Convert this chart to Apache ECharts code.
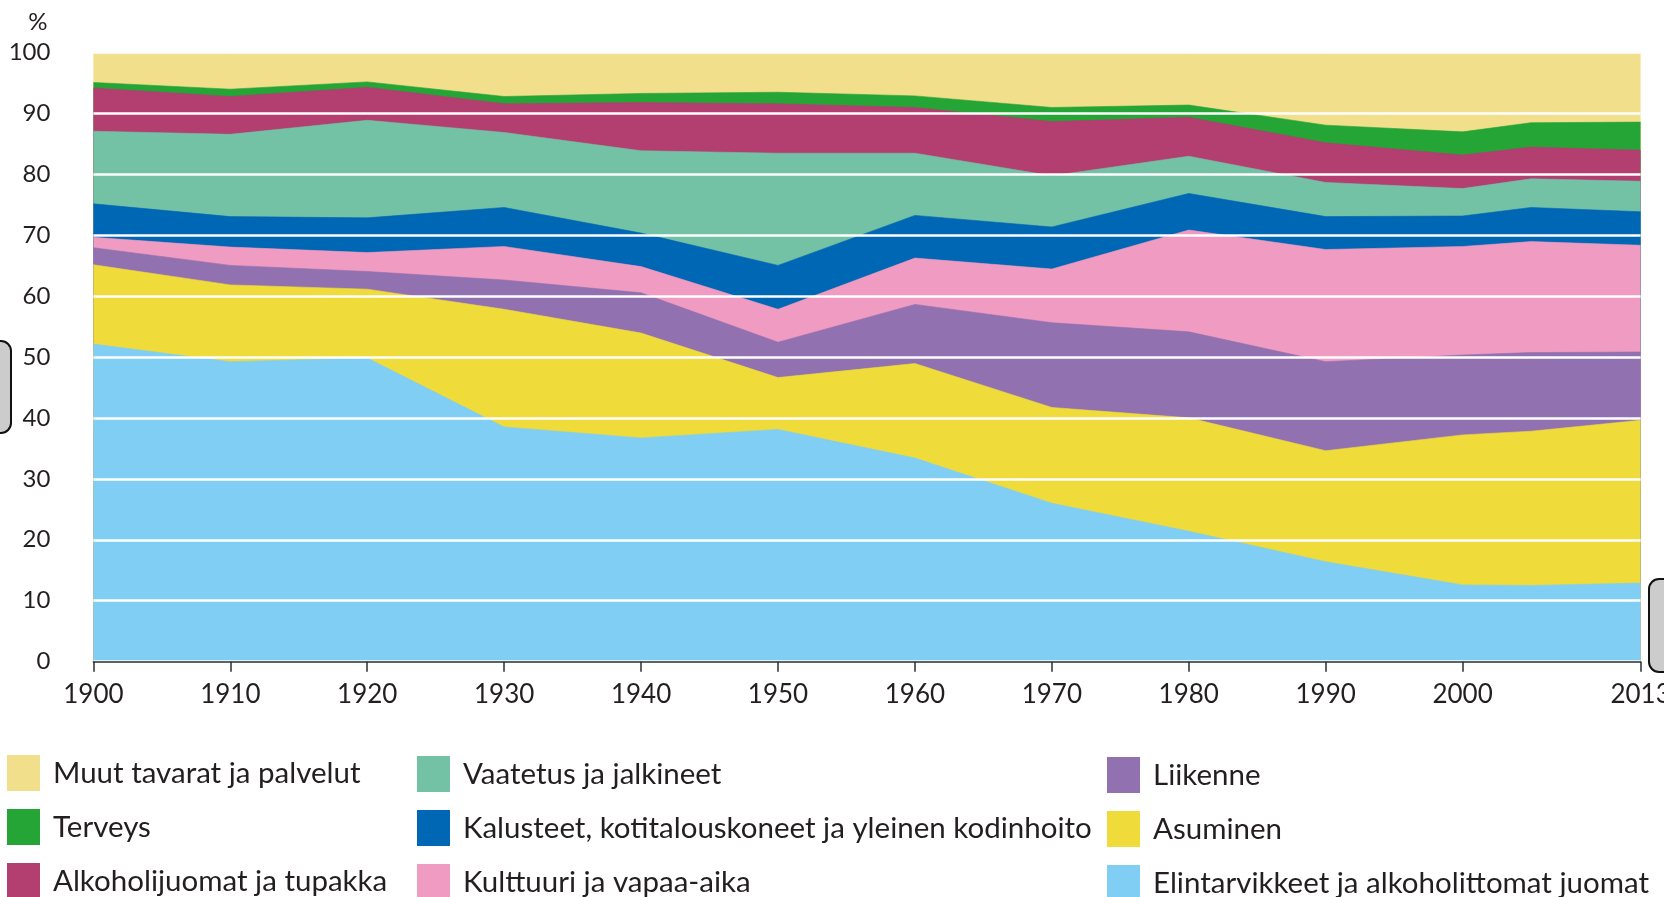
<!DOCTYPE html>
<html>
<head>
<meta charset="utf-8">
<script src="https://cdn.jsdelivr.net/npm/echarts@6/dist/echarts.min.js"></script>
<style>
html,body{margin:0;padding:0;background:#fff;}
#chart{width:1664px;height:897px;}
</style>
</head>
<body>
<div id="chart"></div>
<script>
const years = [1900, 1910, 1920, 1930, 1940, 1950, 1960, 1970, 1980, 1990, 2000, 2005, 2013];
const xTickLabels = [1900, 1910, 1920, 1930, 1940, 1950, 1960, 1970, 1980, 1990, 2000, 2013];

const elintarvikkeet = [52.1, 49.2, 49.8, 38.5, 36.7, 38.1, 33.4, 26.0, 21.4, 16.4, 12.6, 12.5, 12.9];
const asuminen       = [13.0, 12.6, 11.3, 19.3, 17.2, 8.5, 15.5, 15.7, 18.6, 18.2, 24.6, 25.3, 26.7];
const liikenne       = [2.8, 3.2, 2.9, 4.8, 6.6, 5.8, 9.7, 13.9, 14.1, 14.6, 13.1, 12.9, 11.2];
const kulttuuri      = [1.7, 3.0, 3.1, 5.5, 4.3, 5.4, 7.6, 8.8, 16.7, 18.4, 17.8, 18.2, 17.5];
const kalusteet      = [5.5, 5.0, 5.7, 6.4, 5.5, 7.2, 7.0, 6.9, 6.0, 5.4, 5.0, 5.6, 5.5];
const vaatetus       = [11.9, 13.5, 16.0, 12.3, 13.5, 18.4, 10.2, 8.4, 6.1, 5.6, 4.5, 4.7, 5.0];
const alkoholi       = [7.1, 6.2, 5.4, 4.7, 7.9, 8.1, 7.5, 8.9, 6.4, 6.5, 5.5, 5.2, 5.1];
const terveys        = [0.9, 1.2, 0.9, 1.2, 1.5, 1.9, 1.9, 2.3, 2.0, 2.9, 3.8, 4.0, 4.6];
const muut           = [5.0, 6.1, 4.9, 7.3, 6.8, 6.6, 7.2, 9.1, 8.7, 12.0, 13.1, 11.6, 11.5];

// bottom to top
const seriesDefs = [
  {name: 'Elintarvikkeet ja alkoholittomat juomat', data: elintarvikkeet, color: '#80cef3'},
  {name: 'Asuminen', data: asuminen, color: '#efdc3a'},
  {name: 'Liikenne', data: liikenne, color: '#9271b0'},
  {name: 'Kulttuuri ja vapaa-aika', data: kulttuuri, color: '#f09bc1'},
  {name: 'Kalusteet, kotitalouskoneet ja yleinen kodinhoito', data: kalusteet, color: '#0067b4'},
  {name: 'Vaatetus ja jalkineet', data: vaatetus, color: '#74c2a5'},
  {name: 'Alkoholijuomat ja tupakka', data: alkoholi, color: '#b33e70'},
  {name: 'Terveys', data: terveys, color: '#25a535'},
  {name: 'Muut tavarat ja palvelut', data: muut, color: '#f1df8c'}
];

const FONT = 'Lato';
const TXT = '#231f20';

// cumulative stacking (each area is filled from its cumulative top down to 0;
// lower layers are drawn later, on top)
const cum = years.map(() => 0);
const stacked = seriesDefs.map(s => {
  const tops = s.data.map((v, i) => (cum[i] += v));
  return {def: s, tops: tops.slice()};
});

const series = stacked.map((st, idx) => ({
  name: st.def.name,
  type: 'line',
  color: st.def.color,
  symbol: 'none',
  showSymbol: false,
  z: 2 + (seriesDefs.length - idx),
  lineStyle: {width: 0.6, color: st.def.color},
  areaStyle: {color: st.def.color, opacity: 1, origin: 'start'},
  itemStyle: {color: st.def.color},
  emphasis: {disabled: true},
  data: years.map((y, i) => [y, st.tops[i]])
}));

function legendCol(names, left, top) {
  return {
    orient: 'vertical',
    left: left,
    top: top,
    height: 160,
    icon: 'rect',
    itemWidth: 33,
    itemHeight: 36,
    itemGap: 18,
    selectedMode: false,
    padding: 0,
    data: names,
    textStyle: {fontFamily: FONT, fontSize: 29.5, color: TXT, padding: [0, 0, 0, 8]}
  };
}

const chart = echarts.init(document.getElementById('chart'));
chart.setOption({
  animation: false,
  backgroundColor: '#fff',
  grid: {left: 93.4, right: 23.4, top: 52, bottom: 235.3, containLabel: false, outerBoundsMode: 'none'},
  legend: [
    legendCol(['Muut tavarat ja palvelut', 'Terveys', 'Alkoholijuomat ja tupakka'], 7, 755),
    legendCol(['Vaatetus ja jalkineet', 'Kalusteet, kotitalouskoneet ja yleinen kodinhoito', 'Kulttuuri ja vapaa-aika'], 417, 756),
    legendCol(['Liikenne', 'Asuminen', 'Elintarvikkeet ja alkoholittomat juomat'], 1107, 757)
  ],
  xAxis: {
    type: 'value',
    min: 1900,
    max: 2013,
    z: 21,
    axisLine: {show: true, lineStyle: {color: '#2a2f33', width: 1.5}},
    axisTick: {show: true, length: 10, customValues: xTickLabels, lineStyle: {color: '#2a2f33', width: 1.5}},
    axisLabel: {customValues: xTickLabels, margin: 20, fontFamily: FONT, fontSize: 26, color: TXT, formatter: v => String(v)},
    splitLine: {show: false}
  },
  yAxis: {
    type: 'value',
    min: 0,
    max: 100,
    interval: 10,
    z: 20,
    name: '%',
    nameLocation: 'end',
    nameGap: 18,
    nameTextStyle: {fontFamily: FONT, fontSize: 24, color: TXT, align: 'right', padding: [0, 46, 0, 0]},
    axisLine: {show: false},
    axisTick: {show: false},
    axisLabel: {margin: 43, fontFamily: FONT, fontSize: 24, color: TXT},
    splitLine: {show: true, lineStyle: {color: '#ffffff', width: 2.5}}
  },
  graphic: [
    {type: 'rect', left: -20, top: 340, shape: {width: 30, height: 92, r: 10}, style: {fill: '#cccccc', stroke: '#111', lineWidth: 2}, silent: true, z: 30},
    {type: 'rect', left: 1648, top: 578, shape: {width: 40, height: 93, r: 10}, style: {fill: '#cccccc', stroke: '#111', lineWidth: 2}, silent: true, z: 30}
  ],
  series: series
});
</script>
</body>
</html>
